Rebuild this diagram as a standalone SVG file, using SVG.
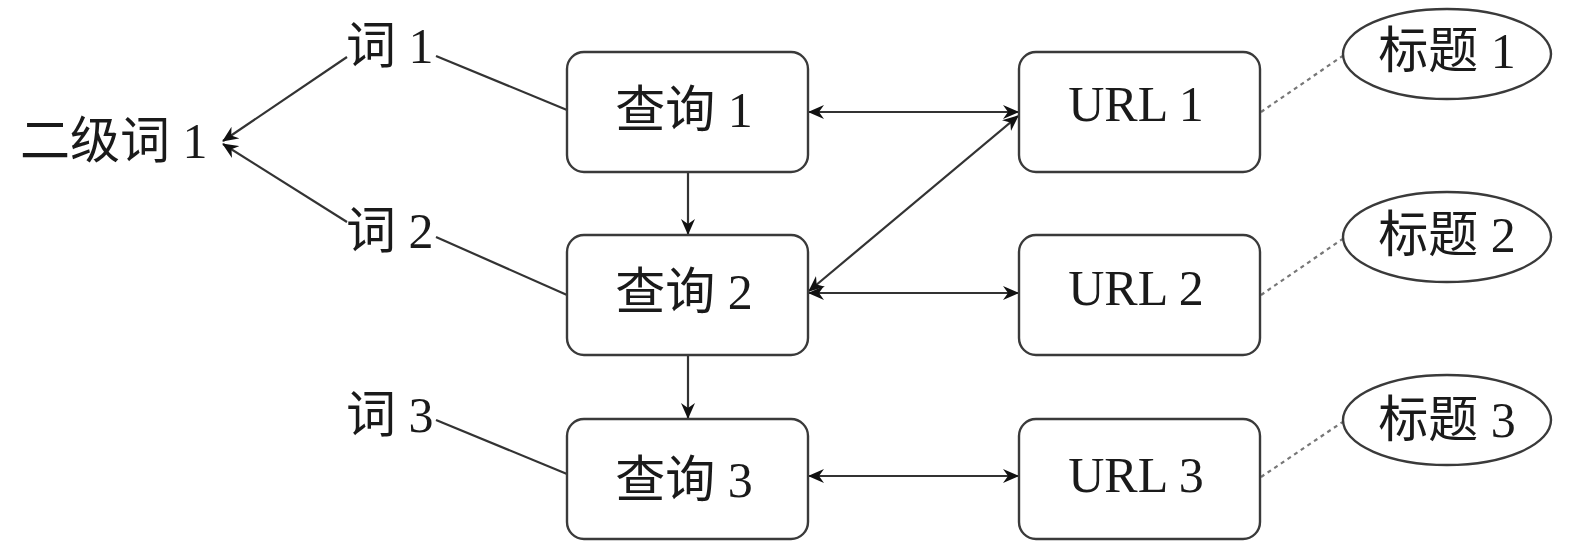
<svg xmlns="http://www.w3.org/2000/svg" width="1575" height="547" viewBox="0 0 1575 547">
<style>
.t{font-family:"Liberation Serif","Noto Sans CJK SC",serif;font-size:50px;fill:#1a1a1a}
.m{text-anchor:middle}
.box{fill:#fff;stroke:#3a3a3a;stroke-width:2.4}
.ell{fill:#fff;stroke:#3a3a3a;stroke-width:2.4}
.c{stroke:#333;stroke-width:2.2;fill:none}
.d{stroke:#777;stroke-width:2.2;fill:none;stroke-dasharray:4 4}
</style>
<defs>
<marker id="ah" viewBox="0 0 16 14" refX="15" refY="7" markerWidth="16" markerHeight="14" markerUnits="userSpaceOnUse" orient="auto-start-reverse">
<path d="M0,0 L16,7 L0,14 L5,7 z" fill="#111"/>
</marker>
</defs>
<g id="connectors">
<line class="c" x1="347" y1="57" x2="223" y2="141" marker-end="url(#ah)"/>
<line class="c" x1="347" y1="222" x2="223" y2="144" marker-end="url(#ah)"/>
<line class="c" x1="436" y1="56" x2="567" y2="110"/>
<line class="c" x1="436" y1="237" x2="567" y2="295"/>
<line class="c" x1="436" y1="420" x2="567" y2="474"/>
<line class="c" x1="688" y1="172" x2="688" y2="234" marker-end="url(#ah)"/>
<line class="c" x1="688" y1="355" x2="688" y2="418" marker-end="url(#ah)"/>
<line class="c" x1="809" y1="112" x2="1018" y2="112" marker-start="url(#ah)" marker-end="url(#ah)"/>
<line class="c" x1="809" y1="291" x2="1018" y2="116" marker-start="url(#ah)" marker-end="url(#ah)"/>
<line class="c" x1="809" y1="293" x2="1018" y2="293" marker-start="url(#ah)" marker-end="url(#ah)"/>
<line class="c" x1="809" y1="476" x2="1018" y2="476" marker-start="url(#ah)" marker-end="url(#ah)"/>
<line class="d" x1="1261" y1="112" x2="1344" y2="55"/>
<line class="d" x1="1261" y1="295" x2="1344" y2="238"/>
<line class="d" x1="1261" y1="477" x2="1344" y2="421"/>
</g>
<g id="erji1"><text class="t" x="20" y="158">二级词 1</text></g>
<g id="ci1"><text class="t" x="346" y="63">词 1</text></g>
<g id="ci2"><text class="t" x="346" y="248">词 2</text></g>
<g id="ci3"><text class="t" x="346" y="432">词 3</text></g>
<g id="q1"><rect class="box" x="567" y="52" width="241" height="120" rx="17"/><text class="t m" x="684" y="127">查询 1</text></g>
<g id="q2"><rect class="box" x="567" y="235" width="241" height="120" rx="17"/><text class="t m" x="684" y="309">查询 2</text></g>
<g id="q3"><rect class="box" x="567" y="419" width="241" height="120" rx="17"/><text class="t m" x="684" y="497">查询 3</text></g>
<g id="u1"><rect class="box" x="1019" y="52" width="241" height="120" rx="17"/><text class="t m" x="1136" y="121">URL 1</text></g>
<g id="u2"><rect class="box" x="1019" y="235" width="241" height="120" rx="17"/><text class="t m" x="1136" y="305">URL 2</text></g>
<g id="u3"><rect class="box" x="1019" y="419" width="241" height="120" rx="17"/><text class="t m" x="1136" y="492">URL 3</text></g>
<g id="b1"><ellipse class="ell" cx="1447" cy="54" rx="104" ry="45"/><text class="t m" x="1447" y="68">标题 1</text></g>
<g id="b2"><ellipse class="ell" cx="1447" cy="237" rx="104" ry="45"/><text class="t m" x="1447" y="252">标题 2</text></g>
<g id="b3"><ellipse class="ell" cx="1447" cy="420" rx="104" ry="45"/><text class="t m" x="1447" y="437">标题 3</text></g>
</svg>
